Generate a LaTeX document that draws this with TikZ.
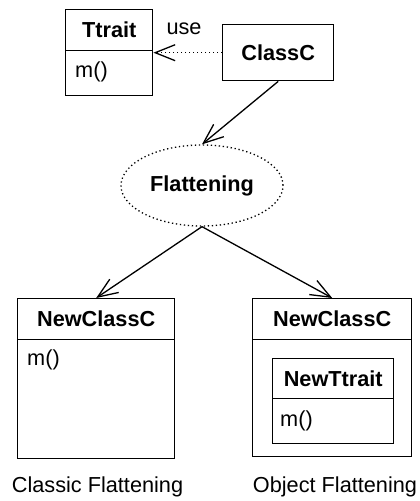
\documentclass[tikz,border=0pt]{standalone}
\usepackage{fontspec}
\setmainfont{Liberation Sans}
\usetikzlibrary{arrows.meta,shapes.geometric}
\begin{document}
\begin{tikzpicture}[x=1pt,y=-1pt,
  part/.style={draw, line width=1.4pt, inner sep=0pt, anchor=north west},
  title/.style={font=\fontsize{21.7}{26}\selectfont\bfseries},
  plain/.style={font=\fontsize{21.7}{26}\selectfont, inner sep=0pt},
  link/.style={line width=1.3pt, -{Straight Barb[length=20pt,width=16pt,line width=1.3pt]}},
  dotline/.style={line width=1.3pt, dash pattern=on 1.3pt off 2.7pt},
  uses/.style={link, dotline}]
\useasboundingbox (0,0) rectangle (420,501);

% trait and its client
\node[part, title, minimum width=87pt, minimum height=41pt] (ttraitH) at (65,9) {Ttrait};
\node[part, minimum width=87pt, minimum height=45pt] (ttraitB) at (65,50) {};
\node[plain, anchor=west] (ttraitM) at (75,72) {m()};

\node[part, title, minimum width=111pt, minimum height=56pt] (classC) at (222,24) {ClassC};
\node[plain] (useLbl) at (184,29) {use};

% flattening step
\node[ellipse, draw, dotline, inner sep=0pt, minimum width=162pt, minimum height=81pt, title]
  (flat) at (202,185.5) {Flattening};

% classic flattening result
\node[part, title, minimum width=157pt, minimum height=41pt] (leftH) at (17,298) {NewClassC};
\node[part, minimum width=157pt, minimum height=119pt] (leftB) at (17,339) {};
\node[plain, anchor=west] (leftM) at (27,360) {m()};

% object flattening result
\node[part, title, minimum width=159pt, minimum height=41pt] (rightH) at (252,298) {NewClassC};
\node[part, minimum width=159pt, minimum height=117pt] (rightB) at (252,339) {};
\node[part, title, minimum width=121pt, minimum height=40pt] (innerH) at (272,358) {NewTtrait};
\node[part, minimum width=121pt, minimum height=45pt] (innerB) at (272,398) {};
\node[plain, anchor=west] (innerM) at (280,421) {m()};

% captions
\node[plain] (capL) at (97.5,487) {Classic Flattening};
\node[plain] (capR) at (335,487) {Object Flattening};

% connectors
\draw[uses] (classC.west) -- (classC.west -| ttraitB.east);
\draw[link] (classC.south) -- (flat.north);
\draw[link] (flat.south) -- (leftH.north);
\draw[link] (flat.south) -- (rightH.north);
\end{tikzpicture}
\end{document}
